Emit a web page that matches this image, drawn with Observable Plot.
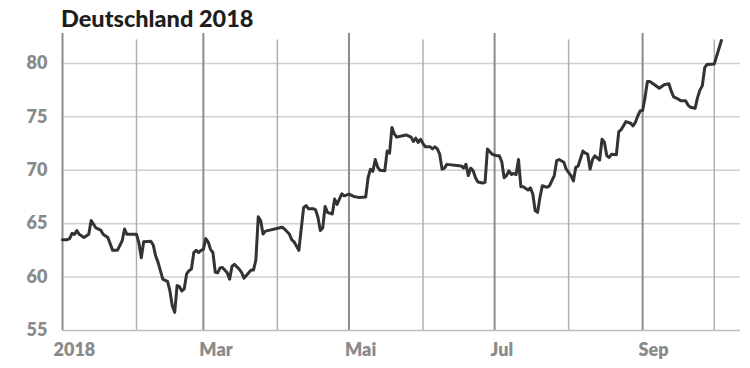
<!DOCTYPE html>
<html>
<head>
<meta charset="utf-8">
<script src="https://cdn.jsdelivr.net/npm/d3@7"></script>
<script src="https://cdn.jsdelivr.net/npm/@observablehq/plot@0.6"></script>
<style>
  html, body { margin: 0; padding: 0; background: #fff; }
  #title { margin: 0; padding: 4px 0 0 61px; height: 28px; line-height: 28px;
           font-family: Lato, sans-serif; font-weight: 900; font-size: 23.5px; color: #1e1e1e; }
  #chart svg { display: block; }
</style>
</head>
<body>
<div id="title">Deutschland 2018</div>
<div id="chart"></div>
<script>
// Series: [date, value]
const dates = [
  "2018-01-01","2018-01-03","2018-01-04","2018-01-05","2018-01-06","2018-01-07","2018-01-08","2018-01-10","2018-01-12","2018-01-13",
  "2018-01-15","2018-01-17","2018-01-18","2018-01-20","2018-01-22","2018-01-24","2018-01-26","2018-01-27","2018-01-28","2018-01-29",
  "2018-01-31","2018-02-01","2018-02-02","2018-02-03","2018-02-04","2018-02-07","2018-02-08","2018-02-09","2018-02-10","2018-02-12",
  "2018-02-13","2018-02-14","2018-02-15","2018-02-16","2018-02-17","2018-02-18","2018-02-19","2018-02-20","2018-02-21","2018-02-22",
  "2018-02-23","2018-02-24","2018-02-25","2018-02-26","2018-02-27","2018-02-28","2018-03-01","2018-03-02","2018-03-03","2018-03-04",
  "2018-03-05","2018-03-06","2018-03-07","2018-03-08","2018-03-09","2018-03-11","2018-03-12","2018-03-13","2018-03-14","2018-03-16",
  "2018-03-17","2018-03-18","2018-03-21","2018-03-22","2018-03-23","2018-03-24","2018-03-25","2018-03-26","2018-03-27","2018-04-03",
  "2018-04-04","2018-04-06","2018-04-07","2018-04-08","2018-04-10","2018-04-11","2018-04-12","2018-04-13","2018-04-14","2018-04-16",
  "2018-04-17","2018-04-18","2018-04-19","2018-04-20","2018-04-21","2018-04-22","2018-04-24","2018-04-25","2018-04-26","2018-04-28",
  "2018-04-29","2018-05-01","2018-05-03","2018-05-05","2018-05-08","2018-05-09","2018-05-10","2018-05-11","2018-05-12","2018-05-13",
  "2018-05-14","2018-05-16","2018-05-17","2018-05-18","2018-05-19","2018-05-20","2018-05-21","2018-05-23","2018-05-25","2018-05-27",
  "2018-05-28","2018-05-29","2018-05-30","2018-05-31","2018-06-01","2018-06-02","2018-06-04","2018-06-05","2018-06-06","2018-06-07",
  "2018-06-08","2018-06-09","2018-06-10","2018-06-11","2018-06-17","2018-06-18","2018-06-19","2018-06-20","2018-06-21","2018-06-22",
  "2018-06-23","2018-06-24","2018-06-26","2018-06-27","2018-06-28","2018-06-30","2018-07-02","2018-07-03","2018-07-04","2018-07-05",
  "2018-07-06","2018-07-07","2018-07-08","2018-07-09","2018-07-10","2018-07-11","2018-07-12","2018-07-13","2018-07-15","2018-07-16",
  "2018-07-17","2018-07-18","2018-07-19","2018-07-20","2018-07-21","2018-07-23","2018-07-24","2018-07-26","2018-07-27","2018-07-28",
  "2018-07-30","2018-07-31","2018-08-02","2018-08-03","2018-08-04","2018-08-05","2018-08-07","2018-08-08","2018-08-09","2018-08-10",
  "2018-08-11","2018-08-12","2018-08-14","2018-08-15","2018-08-16","2018-08-17","2018-08-18","2018-08-19","2018-08-21","2018-08-22",
  "2018-08-23","2018-08-25","2018-08-27","2018-08-28","2018-08-29","2018-08-30","2018-08-31","2018-09-01","2018-09-02","2018-09-03",
  "2018-09-04","2018-09-06","2018-09-08","2018-09-10","2018-09-12","2018-09-13","2018-09-14","2018-09-16","2018-09-17","2018-09-19",
  "2018-09-20","2018-09-21","2018-09-23","2018-09-24","2018-09-25","2018-09-26","2018-09-27","2018-09-28","2018-10-01","2018-10-04"
];
const values = [
  63.5,63.5,63.6,64.1,64.0,64.35,64.0,63.7,64.0,65.3,
  64.6,64.4,64.0,63.7,62.5,62.5,63.4,64.5,64.0,64.0,
  64.0,64.0,63.2,61.8,63.3,63.35,63.0,62.0,61.4,59.8,
  59.7,59.6,58.7,57.3,56.7,59.2,59.1,58.7,58.9,60.3,
  60.6,60.75,62.3,62.5,62.3,62.5,62.6,63.6,63.3,62.6,
  62.3,60.45,60.4,60.86,60.9,60.4,59.8,61.0,61.2,60.75,
  60.45,59.9,60.66,60.66,61.6,65.65,65.3,64.04,64.3,64.66,
  64.5,64.04,63.5,63.3,62.5,64.5,66.5,66.7,66.4,66.4,
  66.3,65.6,64.35,64.6,66.6,66.06,65.9,67.3,66.8,67.8,
  67.6,67.77,67.55,67.46,67.5,69.3,70.1,69.9,71.0,70.3,
  70.0,69.95,71.8,71.6,74.0,73.4,73.1,73.2,73.3,73.1,
  72.7,73.0,72.6,72.9,72.5,72.2,72.2,72.0,72.2,72.0,
  71.5,70.1,70.2,70.55,70.4,70.2,70.55,69.5,70.2,69.95,
  69.3,68.9,68.8,68.87,72.0,71.5,71.35,71.35,70.8,69.3,
  69.5,69.95,69.6,69.7,69.6,71.0,68.46,68.46,68.15,68.35,
  67.77,66.2,66.06,67.46,68.55,68.4,68.55,69.5,70.9,71.0,
  70.75,70.1,69.5,69.0,70.27,70.4,71.8,71.6,71.5,70.1,
  71.0,71.35,70.95,72.9,72.6,71.35,71.2,71.5,71.45,73.6,
  73.8,74.55,74.4,74.15,74.5,75.1,75.56,75.6,76.8,78.3,
  78.3,78.0,77.67,78.0,78.1,77.4,76.87,76.65,76.5,76.5,
  76.1,75.9,75.8,76.8,77.5,77.9,79.6,79.9,79.95,82.15
];

const yTicks = [55, 60, 65, 70, 75, 80];
const xTickDates = ["2018-01-01", "2018-03-01", "2018-05-01", "2018-07-01", "2018-09-01"];
const xTickLabels = ["2018", "Mar", "Mai", "Jul", "Sep"];
const majorMonths = ["2018-01-01", "2018-03-01", "2018-05-01", "2018-07-01", "2018-09-01"];
const minorMonths = ["2018-02-01", "2018-04-01", "2018-06-01", "2018-08-01", "2018-10-01"];
const xDomain = ["2018-01-01", "2018-10-12"];
const yDomain = [55, 82.8];

const series = dates.map((d, i) => ({date: new Date(d), value: values[i]}));
const labelByTime = new Map(xTickDates.map((d, i) => [+new Date(d), xTickLabels[i]]));
const toDates = a => a.map(d => new Date(d));

const chart = Plot.plot({
  width: 750,
  height: 336,
  marginTop: 1,
  marginBottom: 38,
  marginLeft: 62,
  marginRight: 10,
  style: {fontFamily: "Lato, sans-serif", fontWeight: 800, fontSize: "18px", color: "#8a8a8a", background: "#fff"},
  x: {type: "utc", domain: toDates(xDomain)},
  y: {domain: yDomain},
  marks: [
    Plot.ruleY(yTicks.slice(1), {stroke: "#cfcfcf", strokeWidth: 1.5}),
    Plot.ruleX(toDates(minorMonths), {y1: yDomain[0], y2: 82.2, stroke: "#b0b0b0", strokeWidth: 1.5}),
    Plot.ruleX(toDates(majorMonths), {y1: yDomain[0], y2: yDomain[1], stroke: "#8c8c8c", strokeWidth: 2}),
    Plot.ruleY([yDomain[0]], {stroke: "#bdbdbd", strokeWidth: 1.5}),
    Plot.axisY({ticks: yTicks, tickSize: 0, tickPadding: 15, label: null, fill: "#8a8a8a"}),
    Plot.axisX(toDates(xTickDates.slice(0, 1)), {tickSize: 0, tickPadding: 13, textAnchor: "start", dx: -9, label: null, tickFormat: d => labelByTime.get(+d), fill: "#8a8a8a"}),
    Plot.axisX(toDates(xTickDates.slice(1)), {tickSize: 0, tickPadding: 13, textAnchor: "start", dx: -4, label: null, tickFormat: d => labelByTime.get(+d), fill: "#8a8a8a"}),
    Plot.lineY(series, {x: "date", y: "value", stroke: "#333", strokeWidth: 3, strokeLinejoin: "round", strokeLinecap: "round"})
  ]
});
document.getElementById("chart").appendChild(chart);
</script>
</body>
</html>
